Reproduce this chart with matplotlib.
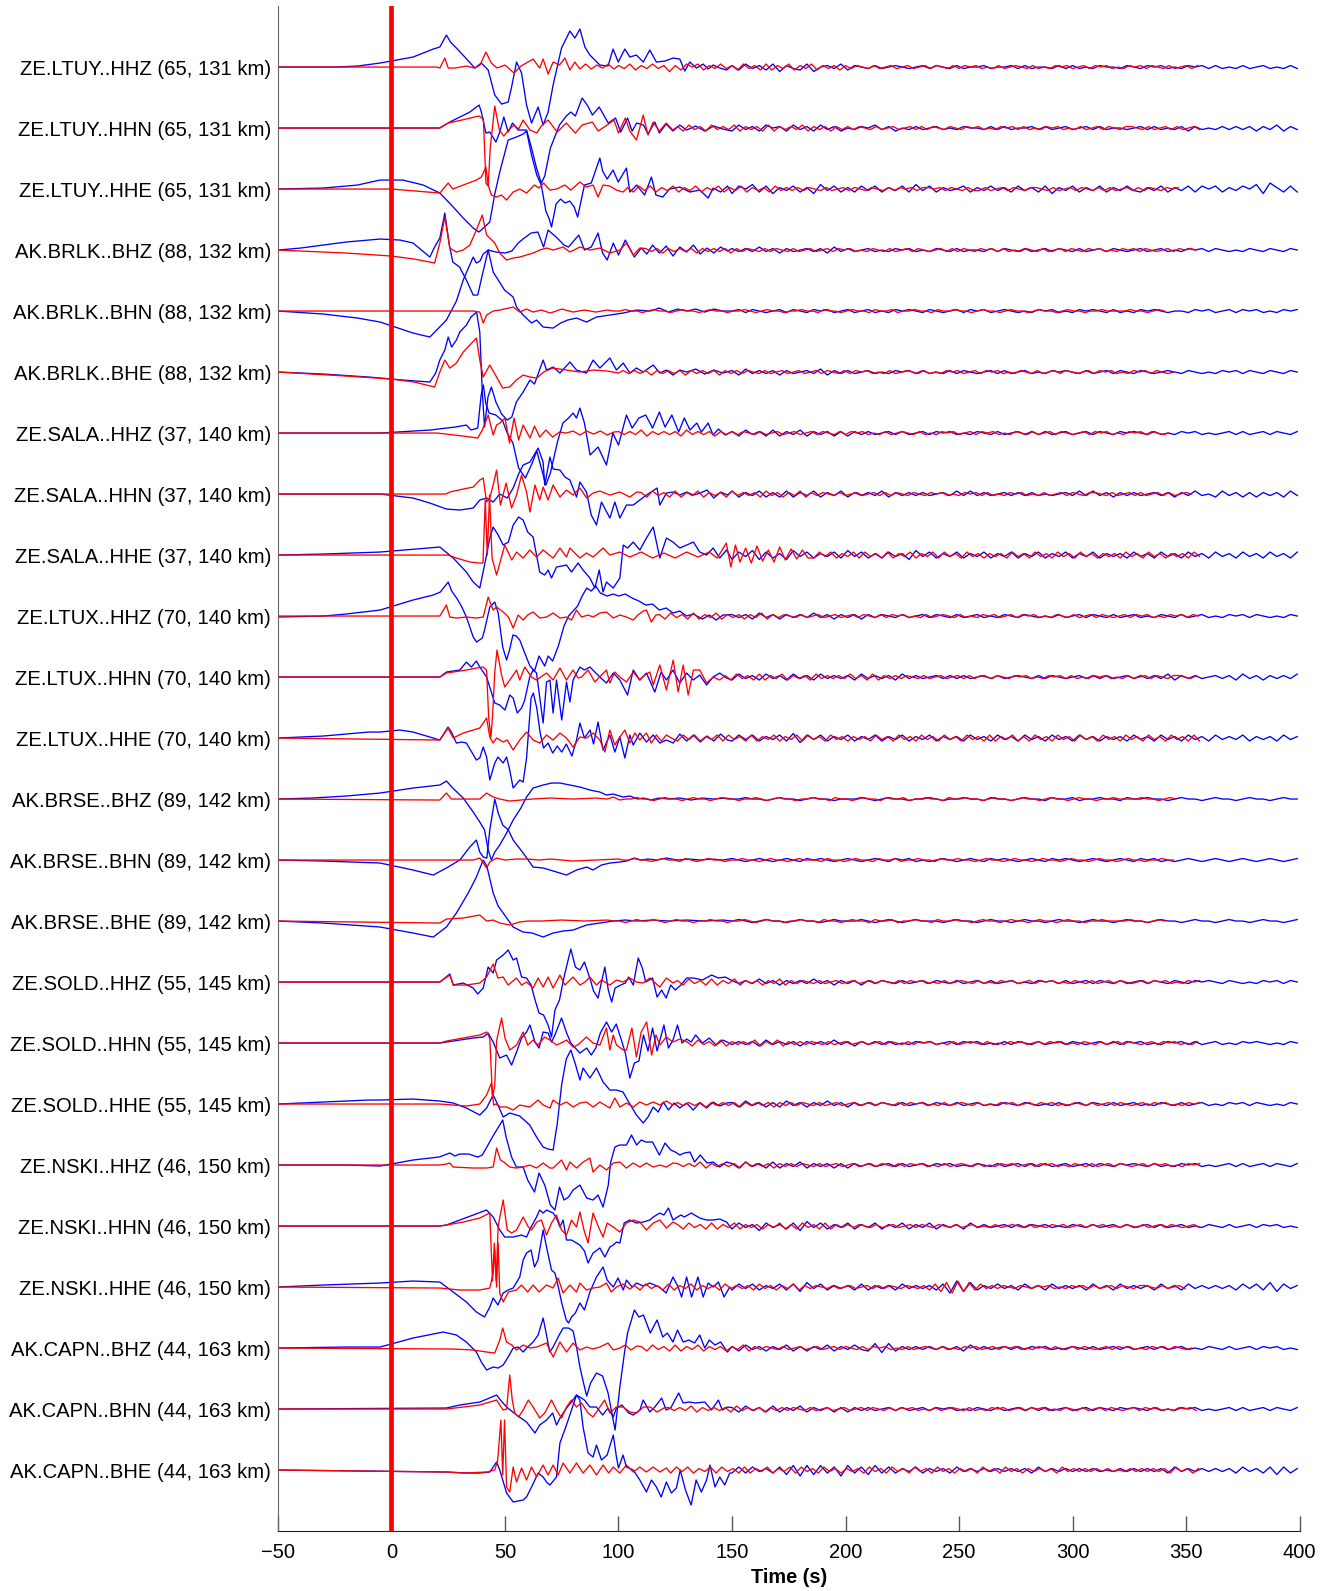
#!/usr/bin/env python3
"""
Record section: observed (blue) and synthetic (red) three-component
waveforms ordered by distance, origin time marked at 0 s.
"""

# %% Libraries
import numpy as np
import matplotlib.pyplot as plt

# %% Setup
plt.rcParams['font.family'] = ['Liberation Sans', 'DejaVu Sans']

# %% Station metadata (azimuth in deg, distance in km)
STATIONS = ['ZE.LTUY', 'AK.BRLK', 'ZE.SALA', 'ZE.LTUX',
            'AK.BRSE', 'ZE.SOLD', 'ZE.NSKI', 'AK.CAPN']
CHANNELS = [['HHZ', 'HHN', 'HHE'], ['BHZ', 'BHN', 'BHE'], ['HHZ', 'HHN', 'HHE'],
            ['HHZ', 'HHN', 'HHE'], ['BHZ', 'BHN', 'BHE'], ['HHZ', 'HHN', 'HHE'],
            ['HHZ', 'HHN', 'HHE'], ['BHZ', 'BHN', 'BHE']]
AZIMUTH = [65, 88, 37, 70, 89, 55, 46, 44]
DIST_KM = [131, 132, 140, 140, 142, 145, 150, 163]

TIME_TICKS = [-50, 0, 50, 100, 150, 200, 250, 300, 350, 400]

# %% Waveforms
# picks: "time:amplitude" pairs for the main arrivals
# coda:  "start|digits", one sample per dt, digit 5 = zero
BLUE_PICKS = [
    "-50:0 -25:0 -15:1 -5:4 9.5:10 18.4:18 21.3:20 24.2:32 26:25 28.6:19 32.3:10 36.7:-1 39.6:4 42.6:-3 "
    "45.5:-28 48.5:-37 51.4:-35 52.9:-20 55.1:5 57.3:-6 59.5:-38 61.7:-56 64.6:-40 66.8:-58 69:-45 71.2:-18 "
    "74.9:19 78.6:36 80.8:29 83:38 85.2:20 87.4:12 91.8:2 95.4:1 97.6:18 99.9:5 102.8:18 105:10 107.9:12 "
    "110.9:5 113.8:17 116.7:5 120.4:6 124.1:9 127:8 129.2:-4 131.4:5 134.4:-1 137.3:3 139.5:-2 141.7:2 144.6:-1 147.6:-3",
    "-50:0 0:0 21.3:0 25.7:6 30.1:11 34.5:16 38.6:23 39.6:16 41.6:-5 43.3:-4 46:-14 47.7:-4 49.5:11 51.4:-4 "
    "53.3:5 55.8:-2 59.5:-2 61.7:-20 63.9:-40 66:-55 67.5:-48 70:-20 74:3 77:12 79:16 81:12 84:30 86.5:22 "
    "88.5:13 91.5:21 95.5:5 98.7:10 101:-4 104:10 106:-3 108:5 111:3 113:-6 116:6 118:-5 121:4 124:-3 127:3 "
    "130:-2 134:2 138:-3 142:2 146:-1",
    "-50:0 -30:1 -15:4 -5:9 5:9 14:4 21.3:-4 26.4:-16 31.6:-29 36:-39 38.5:-43 41:-38 43.3:-33 45.5:-5 47.7:17 "
    "51.4:49 55:52 58:55 59.5:58 61.7:34 64:14 66:4 68:-22 69.5:-30 70.5:-38 72.5:-15 74.5:-10 76.5:-14 78.5:-12 "
    "80.5:-18 82:-28 83.5:-12 85:4 88:6 91.8:31 93:18 95:10 97.6:19 99.9:7 103.5:21 105:-3 108:4 111.5:-6 "
    "114.5:12 116.5:-6 119.5:-8 122.5:0 127:2 131.4:-3 135.8:-1 139.5:-9 141.7:1 145:-3 148:3",
    "-50:0 -40:2 -30:5 -20:8 -10:10 -5:11 3.7:10 9.5:7 16.9:-7 19:3 21.3:12 23.5:37 25.5:5 27:-12 30:-17 "
    "33:-30 36:-45 38:-45 40:-25 42.6:0 46:-2 50:-3 53:-1 55.8:7 58.5:12 61.5:17 64.5:18 67:3 69:20 73:12 "
    "76:5 78:3 82.5:15 85:0 88:3 91:17 93:-3 95:-10 97.7:7 100:-5 103:10 107:-7 110:2 112.5:-4 115:5 118:-3 "
    "121:4 124:-6 127:3 130:-2 133:5 136:-4 139:2 142:-3 145:3 148:-1",
    "-50:0 -30:-3 -15:-7 -5:-11 9.5:-22 16.9:-26 24.2:-9 28.6:10 31.6:31 36:54 37.4:48 39:50 40.4:57 42.6:61 "
    "44.8:39 49.8:21 53.6:14 55.1:4 58:-4 61.7:-12 63.9:-9 66.8:-16 71.2:-17 74.5:-12 77.6:-9 81.5:-7 85.9:-11 "
    "90.3:-6 96.2:-4 102:-2 108:1 114:0 118:3 122:-1 126:2 130:0 134:2 138:-1 142:2 146:0",
    "-50:0 -30:-2 -10:-5 5:-8 16.9:-10 19.5:-1 21.3:12 23.5:22 25:35 26.5:25 28.6:32 30.1:40 33:47 35:55 "
    "37.5:60 38.9:40 40:-20 41:-55 42.5:-25 44:-15 46:-30 48.5:-42 51:-48 53:-45 55:-30 58:-20 61:-8 63:-12 "
    "66.8:12 68.3:2 71.2:5 74.2:-1 78.6:10 81.5:2 85.9:-1 88.8:12 91.8:4 96.2:14 99.1:2 102.1:9 105:-1 "
    "107.9:4 110.9:0 115.3:7 118.2:-1 121.1:2 124:-3 127:2 130:0 134:3 138:-2 142:2 146:-1",
    "-50:0 -5:0 17:3 28:6 33:8 35:3 38:5 39.5:38 40.5:48 41.5:30 43:20 46:18 49:12 51:0 53.5:-10 56:-35 "
    "59:-45 62:-30 64:-18 66:-35 68:-52 70:-40 73:-10 75.5:10 78:15 80:20 81.5:15 83:25 85:10 87.5:-22 "
    "91:-14 94.7:-32 97.5:0 100:-12 103.5:18 106:5 109:15 112:18 115:5 118:21 120.5:6 123.5:18 126.5:1 "
    "129:15 131.5:3 134.5:10 136.5:1 139.5:10 141.7:-2 144:4 147:-2",
    "-50:0 -5:0 9.5:-4 16.9:-9 24.2:-15 30.1:-16 36:-14 38.9:-6 41.9:-4 44.8:-8 47.7:0 51:-4 53.6:6 56:20 "
    "58:29 61:32 64.6:46 66.8:32 67.5:9 69.8:37 71.2:25 74.2:24 76.4:17 78.6:14 81.5:-3 83:12 85.9:2 88:-21 "
    "90.3:-31 92.5:-8 96.2:-24 98.4:-8 100.6:-24 103.5:-11 106.5:-11 109.4:-6 112.3:-1 117:6 118.2:-11 "
    "121.1:1 124:2 127:-1 130:2 133:-1 136:1 139:4 142:-4 145:2 148:-1",
    "-50:0 -30:1 -5:3 21.3:8 27.2:-3 33:-17 36:-27 38.9:-33 41:-10 43.3:17 44.8:28 47:20 49.2:10 51.5:13 "
    "53.6:30 56:38 58:35 60:23 62.4:18 63.9:0 65.3:-17 67.5:-20 69:-15 70.5:-23 72.7:-12 77.1:-10 79.3:-17 "
    "82.2:-8 84.4:-15 87.4:-23 89.6:-33 91.5:-15 93.2:-37 94.7:-27 97.7:-33 100.6:-23 102.1:10 104:7 "
    "106.5:13 109.4:5 112.3:17 115.3:28 118.2:-3 121.1:17 124:13 127:7 130:10 133:13 135.8:3 138.8:0 "
    "141.7:7 144.6:-3 147.6:5",
    "-50:-1 -30:0 -20:2 -5:6 9.5:16 18.4:21 21.5:24 25:34 26.5:25 29:17 31:9 33:-1 36:-21 37.5:-26 40:-22 "
    "41:-14 43.3:9 45.5:14 47:3 49:-31 50.7:-44 52:-34 53.5:-19 55:-20 56.5:-24 58.7:-37 61:-50 63:-55 "
    "65:-40 67.5:-50 69:-40 71:-45 73.5:-30 76:-10 78:0 80:5 82:10 84:20 86:28 88:25 90:30 92:23 95:20 "
    "97.7:22 100:20 103:22 106:18 109:15 112:11 115:12 118:6 121:8 124:3 127:5 130:0 133:2 137:-3 140:1 "
    "143:-4 146:1",
    "-50:0 21.3:0 24.2:5 30.1:7 33:15 35.2:10 37.4:16 38.9:10 41.9:0 43.3:-10 45.5:-26 47.7:-28 50:-33 "
    "52.1:-18 53.6:-21 55.4:-36 57.3:-31 58.7:-23 60.9:0 62.4:7 63.9:4 66.8:-46 68.3:-5 69.8:-3 71.2:-36 "
    "72.7:-3 75:-43 77.1:-5 78.6:-25 80:-3 83:10 85:7 87.4:10 89.6:5 91.8:0 94.7:-6 97.7:4 100.6:-3 104:-18 "
    "106.5:7 109.4:-3 112.3:4 116:-15 118.8:5 121.1:-3 124:7 127:-6 130:4 132.9:-3 135.8:2 138.8:-8 "
    "141.7:0 144.6:4 147.6:-1",
    "-50:0 -30:2 -10:6 -5:6 3.7:8 9.5:6 16.9:1 21.3:-2 24.9:11 26.4:6 28.6:-5 31:-4 33:-5 37.4:-22 38.9:-20 "
    "40.4:-9 41.9:-19 43.3:-42 45.5:-25 46.9:-19 49.2:-25 50.7:-19 52.1:-32 53.6:-50 56.5:-42 58:-44 "
    "59.5:-20 60.5:10 61.5:40 62.5:45 64:30 65.5:5 67:-10 69:-5 71:-15 73:-8 75:-14 77:-6 79.5:-18 81.5:-2 "
    "83:15 85:0 87.5:8 89:-6 91:16 93.2:-12 96.2:3 98.4:-14 100.6:1 102.8:-20 105:3 106.5:-7 109.4:5 "
    "112.3:-4 115.3:3 118.2:-5 121.1:-2 124.1:-5 127:4 130:-3 133:3 136:-4 139:2 142:-3 145:4 148:-2",
    "-50:0 -35:1 -20:3 -5:6 9.5:11 21.3:14 24.2:18 27:11 31.6:1 36:-13 38.9:-23 41:-31 42.6:-51 44:-61 "
    "45.5:-53 47.7:-46 50.7:-34 53.6:-21 57:-9 59.5:2 62.4:11 66.8:14 70.5:16 74.2:16 78.6:14 83:12 87.4:9 "
    "91.8:7 94.7:4 97.7:5 102:2 105:3 108.5:0 111:1 114:-1 118:1 122:0 127:1 132:-1 137:1 142:0 147:1",
    "-50:0 -30:-1 -5:-3 9.5:-10 18.4:-15 24.2:-8 30.1:0 34.5:13 37.4:20 38.9:8 40.4:3 42:2 43.3:30 45.5:61 "
    "47:47 49:35 51.5:30 53.6:20 58:7 62.4:-7 66.8:-8 69.8:-10 74.2:-13 77.1:-15 81.5:-10 86:-7 88.8:-10 "
    "92.5:-5 96.2:-3 100.6:-2 103.5:-1 107:2 110:0 113:1 117:0 121:2 126:0 131:1 136:0 141:1 146:0",
    "-50:0 -30:-2 -5:-6 9.5:-12 18.4:-16 24.2:-6 28.6:8 33.8:28 37.4:44 40.4:61 42:55 44.8:28 47:15 "
    "49.2:8 53.6:-6 58:-11 62:-12 66.8:-16 71.2:-12 75.6:-10 80:-9 85.9:-4 91.8:-2 97.7:0 103:1 108:0 "
    "115:1 122:0 130:1 138:0 146:1",
    "-50:0 21.3:0 25.7:8 27.2:-3 31.6:-1 36:-6 38:-12 40.4:-6 42.6:15 44.8:9 46.3:22 49.2:27 51.4:32 "
    "53.6:22 55.1:24 57.3:5 59.5:4 61.5:-3 63:-16 65:-31 67:-33 69:-43 70.5:-55 72:-28 74:-18 76:5 79:33 "
    "81:15 83:12 85:20 87.5:3 89:-9 91:-16 92.5:0 94:15 95.5:-8 97:-20 98.5:-6 101:-3 103:-1 104.5:5 "
    "106.5:-3 108.7:24 110.5:14 112:0 115:4 117:-15 119:-8 121:-16 123:-3 125:-8 127.5:-3 130:4 133:4 "
    "137:2 141:7 144:4 147:5",
    "-50:0 21.3:0 24.2:1 30.1:3 36:5 40.4:6 42.6:10 44.8:1 47.7:-15 50.7:-12 52.9:-22 55.1:-9 57.3:5 "
    "59.5:11 61:18 63.2:1 65:-5 66.8:11 69:10 70.5:1 72:8 74.9:25 77:11 79:0 83:-10 86:-5 88:-12 90:-5 "
    "92:10 94.7:21 97:11 99:19 101:5 103:-10 105:-35 107:-20 109:-18 111:8 113:-8 115:15 117:-8 120:18 "
    "122:-5 124:3 126:18 128:0 130:4 132:1 134:8 137:0 140:5 143:-2 146:3",
    "-50:0 -30:2 -10:4 -5:4 9.5:5 21.3:3 27.2:1 33:-4 38.9:-11 41.9:-4 44.8:9 46.9:-1 49.2:-13 52.1:-9 "
    "56.5:-12 60.9:-21 63.9:-33 66.8:-43 69:-45 71.2:-46 73:-20 75:20 77:45 79:54 81:40 83:24 84.4:36 "
    "87.4:26 90.3:36 93.2:22 96.2:14 99.1:14 102:12 104.5:2 107.9:-11 110.9:-19 113:-13 115.3:-3 "
    "117.5:-8 119.7:2 122:-6 124.5:1 127:-4 130:1 132.9:-6 135.8:1 138.8:-4 141.7:2 144.6:-2 147.6:1",
    "-50:0 -20:0 -5:-1 9.5:5 21:8 25.7:12 28:9 30:11 34:11 38:8 40:10 42:18 45:30 47.7:40 49:45 50.5:28 "
    "52.9:8 55:-2 58:-2 60:-15 63:-27 65:-8 67.5:-20 70:-40 72:-45 74:-22 76:-35 78:-32 80:-25 83:-20 "
    "86:-33 88.8:-35 91:-30 93.2:-42 95.5:-20 96.5:2 98.4:18 100.5:20 103.5:20 105.7:30 108:20 110:25 "
    "112:23 115:23 118:10 120.5:22 123:15 125:13 127:10 129:12 131.5:13 133.5:3 136:10 139:2 141.7:3 "
    "144.6:-2 147.5:3",
    "-50:0 21.3:0 24.2:1 30.1:6 36:11 41.9:16 44.8:9 47.7:-4 49.9:-11 53.6:-11 57.3:-9 59.5:-11 61.5:-1 "
    "63.9:9 65.3:16 66.8:13 68.3:16 71.2:13 72.7:8 74.2:-1 75.6:6 77.1:-14 79.3:-14 83:-19 85:-25 86.6:-37 "
    "88.8:-27 91.8:-22 94:-31 96.2:-21 97.7:-19 99.1:-16 100.6:-17 102.5:3 105:6 107.9:3 110.9:4 113.8:6 "
    "115.3:9 118.2:13 120:11 122:18 124:6 126:9 127.5:11 129:9 132:13 135.8:8 138.8:6 141.7:6 144.6:7 147.6:4",
    "-50:0 -30:2 -5:4 9.5:6 21.3:5 27.2:-5 33:-15 37.4:-25 41:-30 43.3:-20 44.8:-11 46.9:-18 49.2:-6 "
    "51.4:-3 53.6:-1 56.5:10 58:27 59.5:34 61.5:37 63:20 64.5:27 66.8:57 68.3:40 70.5:17 72:14 73.5:0 "
    "75:-16 77:-33 78:-36 79.3:-30 81:-26 83:-16 85:-23 87.4:-5 90.3:10 93.2:20 95:7 97.7:0 99.8:9 "
    "102.1:-3 103.5:7 106:0 108:4 110.9:1 113.8:4 118:0 121:-6 124:10 126.3:0 127.8:-10 130:10 132.2:-10 "
    "135:10 137.3:-10 139.5:4 141.7:0 144:5 146.5:-10 149:0",
    "-50:0 -20:1 -5:1 9.5:10 22.8:16 28.6:13 33:6 37.4:-4 39.6:-14 41.9:-22 44.8:-19 47:-20 49.2:-17 "
    "51.4:-9 53.6:0 55.8:1 58:-4 60:1 62.4:6 64.6:13 66.8:30 68.3:13 69.7:-4 71.2:1 73.4:11 75.6:20 78:20 "
    "80:17 81.6:0 83:-19 84.6:-35 86:-48 87.7:-35 90.3:-25 93:-28 95.4:-45 98.5:-82 100.6:-39 102.8:-2 "
    "104:15 107:38 109:31 111:33 114:15 117:28 119.5:11 121.5:15 124:6 126:18 128.5:6 131:8 133.5:5 "
    "135.8:13 138:0 140:8 142.5:3 145:6 148:-4",
    "-50:0 24.2:1 30.1:4 38.9:7 46.3:14 48:9 50.7:2 55.1:-6 59.5:-13 63.2:-24 65.3:-16 68.3:-11 71:-4 "
    "72.7:-16 74.5:-8 77.1:1 79.3:7 81.5:14 83:12 85:9 87.4:2 90.3:2 93:-6 95.4:1 97.7:-8 99.1:1 101.5:4 "
    "104.5:-4 106.5:-6 109.4:-1 110.9:9 113.8:-3 116:2 119:11 121:-1 123:1 126.5:16 128.5:6 131:7 134:6 "
    "138:7 141:-1 144:9 145.7:-1 148:2",
    "-50:0 24.2:-2 33:-3 38.9:-3 43.3:-2 46.3:8 47.7:0 50.7:-23 53.6:-32 58:-30 59.5:-27 61.7:-17 64.6:-3 "
    "66.8:-7 68.3:-12 69.8:-15 72.7:-7 74.2:27 77.1:45 79.3:60 81.5:75 83:70 84.4:43 86.6:17 88.8:13 "
    "90.3:25 92.5:10 95:15 97.7:35 99.1:13 100:2 102:15 103.5:3 106.5:0 109.4:-10 112.3:-22 114.5:-10 "
    "116.7:-17 118.8:-27 121.1:-12 123.3:-23 125.5:-18 127.2:0 129.5:-20 132:-35 134.2:-10 136.5:-22 "
    "138.8:-10 140.3:5 142.5:-17 144.6:-7 146.8:-15 149:-3",
]

BLUE_CODA = [
    "150|637463726437256473654645654564654645564556464554646454655465465645465646454645645464654564546",
    "150|374637563746374635465746354645645465546464556464564564645545646454636454646463647364637463647",
    "150|275837264736284736374736473847364573647463746372647364736474364736473757364758296373648362",
    "150|646474636456463746456454656454654645546465464564654645646545645645465646545465465465465646",
    "150|564654564654656456456454656546545646564565454656454656546454656545546564564656454656545",
    "150|637464636456473646456454656464546465456464564546565464564654654565465454656465465465",
    "150|637463736473646363646456464564656454654645646464564564654656546454656454564645646546546",
    "150|736473637364736473646473646464564747464564646454564747463646456463647453746363646374636473",
    "150|274827362847364738473637462847364736473647364736473647364637463746374637463746374637463746",
    "150|646374636464746364636465464564654645645465465454645646546456454654645645465646545465",
    "150|374637463746374646374646374645646464564645654646545646464564646473646456463746364647463646",
    "150|374736473827473647364736473647364637463746374637463746364637463746374637464736463746374637",
    "150|556554565545655455565456554556545565546554565546556455655465565545655456554565545655455655",
    "150|654565456546565456545654656454565456546565456546565456545654656454565456545654565456545654",
    "150|565456554565545655565456545655545655456554565545655456554565545655456554565545655456554565",
    "150|646474636464746364636465464564654645646456454656464564654645646546546565465454656465465465",
    "150|464637464636464746364646454656456465645464654645646545646465645465646456454656545465646456",
    "150|637463637463647463646465464564654645645465465454645646546456454654645645465646545465",
    "150|637463736473646363646456464564656454654645646464564564654656546454656454564645646546546",
    "150|374627463728473647364736473647364637464564646564546546456464564645645465464564656454656",
    "150|374736473728473646373646374646371928364746374637464637463746463746374646463747382746374637",
    "150|637463647363647364743828364646464637464564646564546546456464564645645465464564656454656",
    "150|637463736473646363646456464564656454654645646464564564654656546454656454564645646546546",
    "150|373746372818283718372837364736463746464646463746464646454646464637464646463746372736375646",
]

RED_PICKS = [
    "-50:0 20:0 21.3:-1 23.5:9 25:-1 28:-1 33:1 36.7:-1 39:2 41.6:15 44:4 46.5:-1 50:2 54:-6 57:1 62.4:8 "
    "65.3:-1 66.8:8 69:-7 71.2:5 74:2 76.4:9 78.6:-3 80.8:5 83:-2 85.5:3 88:-2 90.5:2 93:-1 95.5:3 98:-2",
    "-50:0 21:0 25:5 31:8 38.5:12 40.5:9 41.6:-55 42.6:-58 43.5:-20 45.5:22 47.5:-2 49.5:-8 52:-1 54:3 "
    "56:-1 58:8 61:-2 64:-5 66:2 69:8 73:-4 77:5 81:-5 84:3 88.5:6 91:-3 95:3 98:8 100:-5 103:10 105:-3 "
    "107.9:-12 110.9:13 113:-7 115.3:6 118:-3 121:5 124:-2",
    "-50:0 0:0 21.3:-4 25:6 27:0 31.6:4 37.4:9 39.6:12 41.6:22 42.6:4 44:-6 46.3:-8 48.5:-6 50.7:-11 "
    "53.6:-3 56.5:0 59.5:-4 63:4 65:1 67:6 69.8:-1 72.7:0 76.4:4 79:-1 83:7 85.9:2 88.8:4 91:-8 93.2:4 "
    "96.2:3 99.1:-1 102:-3",
    "-50:0 -20:-3 0:-6 10:-9 19:-13 21.3:7 23.5:33 25.7:2 28.6:-2 31.6:0 34.5:5 37.4:20 40:35 41.9:15 "
    "43.3:12 45.5:7 47.7:-3 50.7:-10 53.6:-8 56.5:-7 59.5:-5 62.4:-3 65.3:0 68.3:2 71.2:0 75.6:3 78.6:-2 "
    "83:3 87.4:0 91.8:2 96.2:-3 100.6:0 103.5:7 106.5:-5 109.4:2",
    "-50:0 36:0 38.9:-1 40.4:-12 41.9:-4 44.8:0 47.7:1 53.6:4 56.5:-1 59.5:2 62.4:-1 66:1 70:-2 75:2 "
    "80:-1 85:1 90:-1 95:1",
    "-50:0 -20:-4 0:-7 10:-10 19:-15 21.3:0 23.5:12 25.7:4 28.6:9 31.6:20 34.5:27 37.4:34 38.9:12 40.4:-5 "
    "43.3:7 46.3:-5 49:-16 52:-15 55:-8 58:-3 61:-5 64:-6 67:0 71:4 77:2 83:0 89:2 95:1 100:-1",
    "-50:0 20:0 24:-1 31.6:-3 38:-5 40:3 42.6:18 44.8:-2 46.3:8 47.7:10 50:15 52:-10 54:15 56:-7 58:8 "
    "61:-5 63:7 65.3:-4 68:3 71:-4 74:1 77:0 80:2 83:-2 86:2 89:-1 92:2 95:-2 98:1",
    "-50:0 24:0 25.7:2 31.6:5 36:7 38.9:14 40.4:16 41.9:-8 43.3:-4 44.8:9 46.3:24 48:-11 50.5:11 52.9:-14 "
    "55.1:-1 57.3:19 59.5:2 61:-18 63.2:9 65.3:-6 66.8:7 69:-6 71.2:9 74.2:-3 77.1:4 80:-1 83:6 86:-4 "
    "88.8:1 91.8:3 96.2:-1 100.6:2 105:-3 108:2",
    "-50:0 25:0 28.6:-3 34.5:-7 38.9:-8 40.3:-8 41.3:55 42.2:0 43.2:60 44.3:-3 46.3:-20 49.9:10 53:-5 "
    "55.1:3 58:-3 60.9:5 63.9:-2 66.8:5 71.2:-3 74.2:7 77.1:-2 78.6:7 83:-3 85.9:2 88.8:-2 93.2:7 96.2:0 "
    "100.6:3 105:-2 110:3 115:-3 120:2 125:-3 130:3 135:-2 140:3 143.5:-3 147.5:12 149.5:-12 151.5:10 "
    "153.5:-7 156:7 158.5:-8 161:9 163.5:-6 166:5 168.5:-7 171:8 173.5:-5 176:6 178.5:-4 181:5 183.5:-3",
    "-50:0 21.3:0 24.2:11 25.7:-1 28.6:-2 33:-1 37.4:-2 40.4:-1 42.6:19 44.8:6 46.3:9 49.2:4 51.5:-1 "
    "53.6:-12 55.8:1 58:-4 60:1 62.4:4 65.3:-2 68.3:-1 71.2:3 74.2:-2 77.1:-1 79.3:-4 81.5:6 83.7:-1 "
    "86.6:1 88.8:-1 91.8:3 94.7:4 97.7:-2 100.6:1 103.5:-1 106.5:-4 108.5:1 110.9:5 112.3:6 114.5:-6 116.5:1",
    "-50:0 21.3:0 24.2:4 33:7 37.4:9 40.4:10 41.9:7 42.8:-40 43.8:-60 44.5:-40 45.5:5 46.5:27 48.5:2 "
    "49.9:-10 52.1:-3 55.1:7 56.5:-3 58.7:10 61.7:0 63.9:-3 68.3:4 71.2:-3 74.2:9 77.1:-3 80:7 82.2:-1 "
    "83.7:0 86.6:7 89.6:-5 91.6:0 94.7:7 96.2:-6 98.4:5 100.6:0 103.5:-5 106.5:5 109.4:-3 111.6:2 113.8:5 "
    "115.3:-8 118.2:12 121.1:-13 124.1:17 126.3:-15 128.5:12 130.7:-18 133:7 135.8:7 138.8:-6 141.7:0 144.6:-3",
    "-50:0 21.3:-2 24.9:10 27.2:0 31.6:5 38.9:10 41.9:20 43.3:1 44.8:-5 46.3:0 49.2:-4 51:-2 53.6:-12 "
    "56.5:-2 59.5:6 62.4:-2 65.3:-5 68.3:3 71.2:-2 74.2:5 77.1:0 80:-9 83:1 85.9:0 88.8:5 91.8:-2 94:-14 "
    "96.2:8 98.4:-7 100.6:1 102.8:8 105:-5 107.2:5 109.4:-2 112.3:5 114.5:-5 116.7:3 118.9:-3 121.1:3 124.1:-1",
    "-50:0 21.3:-1 24.2:6 26.4:0 38.9:0 41.9:6 44.8:2 47.7:0 52:-2 57:-1 62:0 70:1 80:0 90:1 95:0 "
    "97.7:2 100.6:-1",
    "-50:0 36:0 38.9:2 40.4:-3 41.9:-8 43.3:-2 46.3:2 50:0 55:1 60:1 65:0 70:1 80:-1 90:0 100:1",
    "-50:0 21.3:-2 24.2:2 31.6:3 38.9:6 41.9:0 44.8:1 47.7:-2 52.1:-4 56.5:-1 60:0 66:0 75:1 85:0 95:1",
    "-50:0 21.3:0 25.7:7 27.2:-3 33:-3 38.9:-1 41.9:5 44.8:18 46.9:4 49.2:5 51.4:-3 55.1:4 57.3:-3 59.5:0 "
    "62.4:-6 64.6:4 66.8:-5 69:5 71.2:-6 74.2:7 76.4:-3 80:5 83:-3 85.2:0 87.4:5 90.3:-3 92.5:2 96.2:-3 "
    "99.1:2 102:0 105:4 107.9:0 110.9:-1 113.8:4 118.2:-5 121.1:4 124:-1",
    "-50:0 21.3:0 24.2:2 31.6:5 38.9:8 41.9:11 43.3:5 44.5:-55 45.5:-42 46.3:2 48.5:25 50:5 52.1:-7 "
    "55.1:-2 58:11 60:-2 62.4:3 64.5:-2 67.5:6 69.8:3 72.7:-2 75.6:1 77.1:3 80:-4 82:-2 85.9:6 88.8:0 "
    "91.8:-2 94.7:15 96.2:-7 97.7:8 99.1:-2 102.1:-7 103.5:-7 105.9:15 107.9:-14 110:11 112.4:21 "
    "114.6:-12 116.5:8 118.2:-2 121.1:6 124:1 127:4",
    "-50:0 21.3:0 27.2:-1 33:-2 38.9:0 41.9:9 44:21 45:-1 46:0 48:-3 50.7:-3 53.6:-6 56.5:-1 60.9:-3 "
    "64.6:4 66.8:-1 69.8:-4 71.2:4 74.2:-1 77.1:2 80:-3 83:1 85.9:2 88.8:-3 91.8:2 96.2:-4 98.4:6 "
    "100.6:-3 103.5:1 106.5:-3 109.4:2 112.3:-1 115.3:2 118.2:-1 121.1:3 124:-1",
    "-50:0 21.3:0 24.2:1 25.7:2 27.2:-2 36:-3 41.9:-3 44.8:-2 46.3:17 48:5 49.5:3 52.1:-2 55.1:-3 58:-2 "
    "60.9:0 63.9:-3 66.8:2 69.8:-3 71.2:-3 74.9:5 77.1:-5 78.6:3 81.5:-3 84.4:3 87.4:7 88.8:-7 91.8:0 "
    "94.7:-5 97.7:2 100.6:3 103.5:-3 106.5:2 109.4:-2 112.3:2 115.3:-2 118.2:0 121.1:-2 124:2",
    "-50:0 21.3:0 24.2:1 31.6:4 38.9:8 43.3:13 44.5:-55 45.3:-17 46.1:-55 47:0 49.2:26 51:-4 52.9:-7 "
    "55.1:-4 58:9 60.3:-1 61.7:-4 64:4 66:6 68.3:-9 70.5:3 72.7:11 74.9:-4 77.1:-9 79.3:6 81.5:-1 83:14 "
    "84.8:-4 86.6:-17 88.8:13 91.2:-1 93.2:-11 95:3 97.7:-1 100.6:-6 103.5:3 106.5:6 109.4:4 112.3:-4 "
    "115.3:3 118.2:6 121.1:-2 124:4",
    "-50:0 21.3:-1 30.1:-3 38.9:-3 43.3:-1 44.8:14 45.5:37 46.3:0 47:44 47.7:-6 49.2:-15 51.5:-5 55:-3 "
    "57.3:2 60:-5 62.4:2 65:-5 68.3:2 71.2:-1 73.4:9 75.6:-6 78.6:2 81.5:-5 83:4 85.9:-3 88.8:-1 91.8:0 "
    "94.7:4 96.8:-5 99.1:0 102:3 105:-2",
    "-50:0 27.2:-1 36:-2 41.9:-4 45.5:-5 47.7:8 49:20 50.7:6 53:3 55.1:-2 58:3 61:0 64:1 68.3:5 71.2:-9 "
    "74.2:6 77.1:-4 80:5 83:-2 85.9:1 88.8:-1 91.8:1 95.4:5 97.7:-2 100.6:0 103:3 105.5:-2 108:2",
    "-50:0 24.2:0 31.6:2 38.9:4 46.3:9 47.7:4 49.2:-1 50.7:0 52.1:34 53.2:9 54.3:-4 56:-8 58:-1 60.3:9 "
    "62.4:2 65.3:-9 67.5:-4 70.5:9 72.7:-1 74.9:-9 77.1:2 79.3:9 81.5:2 83.7:6 86.6:-4 88.8:-8 91.8:2 "
    "93.9:9 96.2:-4 99:2 102:2 105:-3 108:-4 111:2 114:2 117:-3 120:1",
    "-50:0 24.2:-2 31.6:-3 41.9:-2 45.5:0 46.8:10 48.2:50 49:-5 49.8:50 50.7:-17 52.1:-22 53.6:3 55.1:-12 "
    "57.3:2 59.5:-10 61.7:3 63.9:-7 66.8:5 69:-5 71.2:5 73.4:-5 75.6:7 78.6:-3 81.5:7 84.4:-3 87.4:5 "
    "90.3:-5 93.2:5 95.7:-3 97.7:3 100.6:-3 103.5:5 106.5:-2 109.4:3 112.3:-2 115.3:3 118.2:-2 121.1:2",
]

RED_CODA = [
    "100|64736474626375736474637463736473647364636465464564564564654646564546456546454656456465645465646546456465",
    "126|63746374647364637364647364636464654645645646465465465645465646454656454645646546654645646456464565",
    "104|63747364736473647364736463746464654645646546546465646656465464464564654665464564654646456464654656",
    "112|64636464636464636465464654645645646564546546456465456464654656464546546456465465645465646545646565",
    "98|55655456554565545655455654565545565546554565546556455655465565545655456554565545655455655556554565",
    "102|64646364646364646364646546456456456465464656454645654645465645646564546546456465456465645465646545",
    "100|64647364646374646364646546456456456465464656454645654645465645646564546546456465456465645465646545",
    "110|63746373647364637464637463647364654645645646465465465645465646454656454645646546654645646456464565",
    "186|37473647374637364736473746374636463746374637463746364637463746364637463746364646374646364646463746",
    "118|63746373647364636473646546456456456465464656454645654645465645646564546546456465456465645465646545",
    "147|63746373647364637464647463736464654645645646465465465645465646454656454645646546654645646456464565",
    "126|37473647374637364736473746374636463746374637463746374637364736374637463746374637463746374637364637",
    "103|55655456554565545655455654565545565546554565546556455655465565545655456554565545655455655556554565",
    "102|55655456554654565545565545655456555465545655465564556554655655456554565545655456554565545655455655",
    "98|55456556545655455655455654565545565546554565546556455655465565545655456554565545655455655556554565",
    "126|63746373647364636473646546456456456465464656454645654645465645646564546546456465456465645465646545",
    "130|63746373646473647364646546456456456465464656454645654645465645646564546546456465456465645465646545",
    "126|64646364646364646364646546456456456465464656454645654645465645646564546546456465456465645465646545",
    "126|64647364646374646364646546456456456465464656454645654645465645646564546546456465456465645465646545",
    "126|63746373647364636473637463736464654645645646546546456454645654645465645646564546546456465456465645",
    "107|63746373647364637464637463647364654645645646465465463728192837464654654656454656464564654665464564",
    "110|63746373647364636473646546456456456465464656454645654645465645646564546546456465456465645465646545",
    "122|64647364646374646364646546456456456465464656454645654645465645646564546546456465456465645465646545",
    "123|37473647374637364736473746374636463746374637463746364637463746364646374646464645464646463746364637",
]

# %% Plot constants
SPACING = 61.0      # baseline spacing in amplitude units
CODA_STEP = 1.5     # amplitude per coda digit
BLUE_DT, RED_DT = 3.0, 2.5
BLUE_END, RED_END = 400.0, 356.0


def picks_to_series(picks):
    pairs = np.array([p.split(':') for p in picks.split()], dtype=float)
    order = np.argsort(pairs[:, 0], kind='stable')
    return pairs[order, 0], pairs[order, 1]


def coda_to_series(coda, dt):
    t0, digits = coda.split('|')
    amp = (np.array([int(c) for c in digits]) - 5) * CODA_STEP
    return float(t0) + dt * np.arange(len(digits)), amp


def waveform(picks, coda, dt, t_end):
    t_main, a_main = picks_to_series(picks)
    t_coda, a_coda = coda_to_series(coda, dt)
    keep = t_main < t_coda[0]
    t = np.concatenate([t_main[keep], t_coda])
    a = np.concatenate([a_main[keep], a_coda])
    inside = t <= t_end
    return t[inside], a[inside]


# trace labels
labels = []
for sta, chans, az, dist in zip(STATIONS, CHANNELS, AZIMUTH, DIST_KM):
    for ch in chans:
        labels.append(f"{sta}..{ch} ({az}, {dist} km)")
n_traces = len(labels)

# %% Figure
fig = plt.figure(figsize=(13.3, 15.91), dpi=100)
ax = fig.add_axes([0.209, 0.0377, 0.7681, 0.9585])

for k in range(n_traces):
    tb, ab = waveform(BLUE_PICKS[k], BLUE_CODA[k], BLUE_DT, BLUE_END)
    tr, ar = waveform(RED_PICKS[k], RED_CODA[k], RED_DT, RED_END)
    ax.plot(tb, k + 1 - ab / SPACING, color='blue', lw=0.95, zorder=2)
    ax.plot(tr, k + 1 - ar / SPACING, color='red', lw=0.95, zorder=3)

# origin time
ax.axvline(0, color='red', lw=3.4, zorder=4)

# axes
ax.set_xlim(-50, 400)
ax.set_ylim(n_traces + 1, 0)
ax.set_xticks(TIME_TICKS)
ax.set_yticks(np.arange(1, n_traces + 1))
ax.set_yticklabels(labels)
ax.tick_params(axis='x', direction='in', length=11, width=1, color='#555555',
               labelsize=14.5, pad=8.5)
ax.tick_params(axis='y', length=0, labelsize=14.6, pad=5)
for side in ('top', 'right'):
    ax.spines[side].set_visible(False)
ax.spines['left'].set_color('#666666')
ax.spines['bottom'].set_color('#222222')

# labels
ax.set_xlabel("Time (s)", fontsize=14.3, fontweight='bold', labelpad=4.5)

fig.savefig('out.png', dpi=100)
